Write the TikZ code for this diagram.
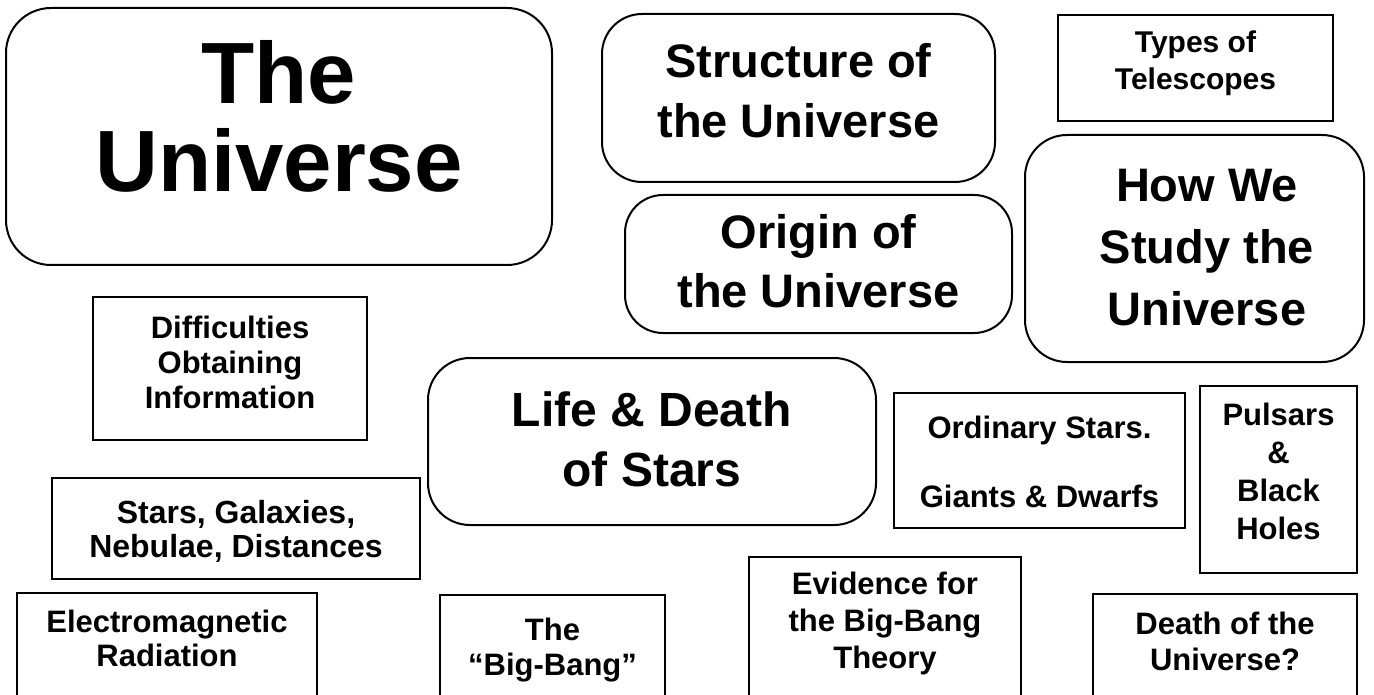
\documentclass[tikz,border=0pt]{standalone}
\usepackage{fontspec}
\setmainfont{Liberation Sans}
\begin{document}
\begin{tikzpicture}[x=1pt,y=-1pt,
  frame/.style={draw=black, line width=2pt, fill=white, inner sep=0pt},
  roundframe/.style={frame, rounded corners=#1},
  caption/.style 2 args={anchor=north, inner sep=0pt, align=center,
    font=\fontsize{#1}{#2}\selectfont\bfseries}]
\useasboundingbox (0,0) rectangle (1374,695);
\clip (0,0) rectangle (1374,695);

% rounded topic boxes
\node[roundframe=45pt, minimum width=546pt, minimum height=257pt] (univ) at (279,136.5) {};
\node[roundframe=40pt, minimum width=393pt, minimum height=168pt] (struct) at (798.5,98) {};
\node[roundframe=42pt, minimum width=339pt, minimum height=227pt] (howwe) at (1194.5,248.5) {};
\node[roundframe=38pt, minimum width=387pt, minimum height=138pt] (origin) at (818.5,264) {};
\node[roundframe=42pt, minimum width=448pt, minimum height=167pt] (life) at (652,441.5) {};

% square subtopic boxes
\node[frame, minimum width=275pt, minimum height=106pt] (tele) at (1195.5,68) {};
\node[frame, minimum width=274pt, minimum height=143pt] (diff) at (230,368.5) {};
\node[frame, minimum width=291pt, minimum height=135pt] (ordinary) at (1039.5,460.5) {};
\node[frame, minimum width=157pt, minimum height=187pt] (pulsars) at (1278.5,479.5) {};
\node[frame, minimum width=368pt, minimum height=101pt] (stars) at (236,528.5) {};
\node[frame, minimum width=300pt, minimum height=112pt] (em) at (167,649) {};
\node[frame, minimum width=225pt, minimum height=110pt] (bigbang) at (552.5,650) {};
\node[frame, minimum width=272pt, minimum height=148pt] (evidence) at (885,631) {};
\node[frame, minimum width=264pt, minimum height=111pt] (death) at (1225,649.5) {};

% captions
\node[caption={87}{88}] (univ-t) at (279,40) {The\\Universe};
\node[caption={47}{60}] (struct-t) at (798.5,43) {Structure of\\the Universe};
\node[caption={47}{62}] (howwe-t) at (1207,169) {How We\\Study the\\Universe};
\node[caption={47}{59}] (origin-t) at (818.5,214) {Origin of\\the Universe};
\node[caption={48}{60}] (life-t) at (652,392) {Life \& Death\\of Stars};
\node[caption={30}{37}] (tele-t) at (1195.5,31) {Types of\\Telescopes};
\node[caption={31}{35}] (diff-t) at (230,316) {Difficulties\\Obtaining\\Information};
\node[caption={31}{37}] (ordinary-t) at (1039.5,416) {Ordinary Stars.\\[32pt]Giants \& Dwarfs};
\node[caption={31}{38}] (pulsars-t) at (1278.5,403) {Pulsars\\\&\\Black\\Holes};
\node[caption={32}{34}] (stars-t) at (236,500) {Stars, Galaxies,\\Nebulae, Distances};
\node[caption={31}{34}] (em-t) at (167,610) {Electromagnetic\\Radiation};
\node[caption={31}{35}] (bigbang-t) at (552.5,618) {The\\“Big-Bang”};
\node[caption={31}{37}] (evidence-t) at (885,572) {Evidence for\\the Big-Bang\\Theory};
\node[caption={31}{36}] (death-t) at (1225,612) {Death of the\\Universe?};
\end{tikzpicture}
\end{document}
